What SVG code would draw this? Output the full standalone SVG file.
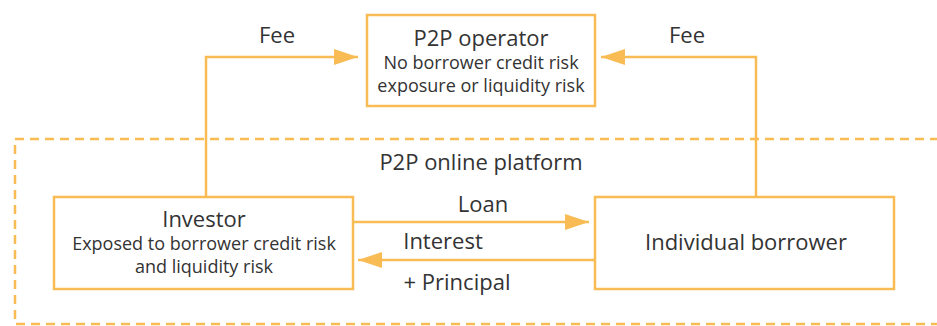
<svg xmlns="http://www.w3.org/2000/svg" width="937" height="326" viewBox="0 0 937 326">
<style>
.box{fill:#fff;stroke:#F9BC55;stroke-width:2.5}
.ln{fill:none;stroke:#F9BC55;stroke-width:2.5}
.dash{fill:none;stroke:#F9BC55;stroke-width:2.5;stroke-dasharray:9 6}
text{font-family:"Open Sans","Noto Sans",sans-serif;fill:#333;text-anchor:middle}
.t{font-size:22px}
.s{font-size:18px}
</style>
<defs>
<marker id="ah" viewBox="0 0 24 16" refX="24" refY="8" markerWidth="24" markerHeight="16" markerUnits="userSpaceOnUse" orient="auto">
<path d="M0,0 L24,8 L0,16 Z" fill="#F9BC55"/>
</marker>
</defs>
<rect class="dash" x="15" y="139" width="940" height="185"/>
<text class="t" x="481" y="170">P2P online platform</text>
<g id="connectors">
<path class="ln" d="M206,196 V57 H358" marker-end="url(#ah)"/>
<path class="ln" d="M756,196 V57 H601" marker-end="url(#ah)"/>
<path class="ln" d="M353,222 H589" marker-end="url(#ah)"/>
<path class="ln" d="M595,260 H358" marker-end="url(#ah)"/>
<text class="t" x="277" y="43">Fee</text>
<text class="t" x="687" y="43">Fee</text>
<text class="t" x="483" y="212">Loan</text>
<text class="t" x="443" y="249">Interest</text>
<text class="t" x="457" y="290">+ Principal</text>
</g>
<g id="operator">
<rect class="box" x="367" y="15" width="228" height="91"/>
<text class="t" x="481" y="46">P2P operator</text>
<text class="s" x="481" y="69">No borrower credit risk</text>
<text class="s" x="481" y="92">exposure or liquidity risk</text>
</g>
<g id="investor">
<rect class="box" x="54" y="197" width="299" height="92"/>
<text class="t" x="204" y="227">Investor</text>
<text class="s" x="204" y="250">Exposed to borrower credit risk</text>
<text class="s" x="204" y="273">and liquidity risk</text>
</g>
<g id="borrower">
<rect class="box" x="595" y="197" width="299" height="92"/>
<text class="t" x="746" y="250">Individual borrower</text>
</g>
</svg>
